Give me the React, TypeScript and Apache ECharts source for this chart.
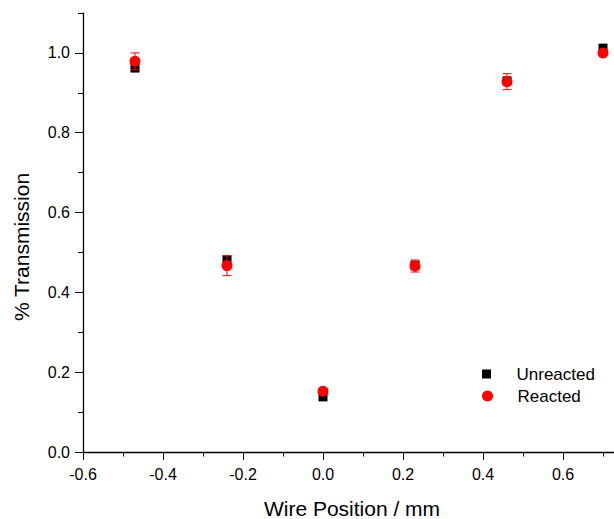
import React, { useEffect, useRef } from "react";
import * as echarts from "echarts";

const positions = [-0.47, -0.24, 0.0, 0.23, 0.46, 0.7];
const unreacted = [0.962, 0.481, 0.138, 0.468, 0.93, 1.012];
const reacted = [0.979, 0.467, 0.152, 0.466, 0.928, 1.0];
const reactedErr = [0.021, 0.025, 0.005, 0.015, 0.02, 0.004];

const xMajor = [-0.6, -0.4, -0.2, 0.0, 0.2, 0.4, 0.6];
const xMinor = [-0.5, -0.3, -0.1, 0.1, 0.3, 0.5, 0.7];
const yMajor = [0.0, 0.2, 0.4, 0.6, 0.8, 1.0];
const yMinor = [0.1, 0.3, 0.5, 0.7, 0.9, 1.1];

const FONT = "'Liberation Sans', Arial, sans-serif";

export default function App() {
  const ref = useRef<HTMLDivElement>(null);
  useEffect(() => {
    if (!ref.current) return;
    const chart = echarts.init(ref.current, null, { renderer: "svg" });
    const xMin = -0.6;
    const xMax = 0.7275;
    const yMin = 0;
    const yMax = 1.1;
    const axisLineStyle = { color: "#000", width: 1.3 };
    const option: any = {
      animation: false,
      textStyle: { fontFamily: FONT },
      grid: { left: 83, top: 13, width: 531, height: 439 },
      xAxis: [
        {
          type: "value",
          min: xMin,
          max: xMax,
          position: "bottom",
          axisLine: { show: true, onZero: false, lineStyle: axisLineStyle },
          axisTick: { show: true, customValues: xMajor, length: 8, lineStyle: { color: "#000", width: 1 } },
          axisLabel: {
            customValues: xMajor,
            formatter: (v: number) => v.toFixed(1),
            color: "#000",
            fontSize: 16,
            fontFamily: FONT,
            margin: 14,
          },
          splitLine: { show: false },
        },
        {
          type: "value",
          min: xMin,
          max: xMax,
          position: "bottom",
          axisLine: { show: false, onZero: false },
          axisTick: { show: true, customValues: xMinor, length: 4.5, lineStyle: { color: "#000", width: 1 } },
          axisLabel: { show: false },
          splitLine: { show: false },
        },
      ],
      yAxis: [
        {
          type: "value",
          min: yMin,
          max: yMax,
          position: "left",
          axisLine: { show: true, onZero: false, lineStyle: axisLineStyle },
          axisTick: { show: true, customValues: yMajor, length: 8, lineStyle: { color: "#000", width: 1 } },
          axisLabel: {
            customValues: yMajor,
            formatter: (v: number) => v.toFixed(1),
            color: "#000",
            fontSize: 16,
            fontFamily: FONT,
            margin: 13,
          },
          splitLine: { show: false },
        },
        {
          type: "value",
          min: yMin,
          max: yMax,
          position: "left",
          axisLine: { show: false, onZero: false },
          axisTick: { show: true, customValues: yMinor, length: 5, lineStyle: { color: "#000", width: 1 } },
          axisLabel: { show: false },
          splitLine: { show: false },
        },
      ],
      legend: [
        {
          data: [{ name: "Unreacted", icon: "path://M0,0L10,0L10,10L0,10Z", itemStyle: { color: "#000", opacity: 1 } }],
          left: 482,
          top: 365,
          padding: 0,
          itemWidth: 50,
          itemHeight: 9,
          symbolKeepAspect: true,
          textStyle: { fontSize: 17, lineHeight: 18, color: "#000", fontFamily: FONT },
        },
        {
          data: [{ name: "Reacted", icon: "circle", itemStyle: { color: "#ff0000", opacity: 1 } }],
          left: 482,
          top: 387,
          padding: 0,
          itemWidth: 50,
          itemHeight: 11,
          textStyle: { fontSize: 17, lineHeight: 18, color: "#000", fontFamily: FONT },
        },
      ],
      graphic: [
        {
          type: "text",
          x: 352,
          y: 508,
          style: {
            text: "Wire Position / mm",
            fontSize: 21,
            fontFamily: FONT,
            fill: "#000",
            align: "center",
            verticalAlign: "middle",
          },
        },
        {
          type: "text",
          x: 21,
          y: 247,
          rotation: Math.PI / 2,
          style: {
            text: "% Transmission",
            fontSize: 21,
            fontFamily: FONT,
            fill: "#000",
            align: "center",
            verticalAlign: "middle",
          },
        },
      ],
      series: [
        {
          name: "Unreacted",
          type: "scatter",
          symbol: "rect",
          symbolSize: 9,
          itemStyle: { color: "#000", opacity: 1 },
          data: positions.map((x, i) => [x, unreacted[i]]),
          z: 2,
        },
        {
          name: "Reacted",
          type: "scatter",
          symbol: "circle",
          symbolSize: 11,
          itemStyle: { color: "#ff0000", opacity: 1 },
          data: positions.map((x, i) => [x, reacted[i]]),
          z: 3,
        },
        {
          name: "Reacted",
          type: "custom",
          z: 4,
          encode: { x: 0, y: [1, 2] },
          data: positions.map((x, i) => [x, reacted[i] - reactedErr[i], reacted[i] + reactedErr[i]]),
          renderItem: (params: any, api: any) => {
            const x = api.value(0);
            const lo = api.coord([x, api.value(1)]);
            const hi = api.coord([x, api.value(2)]);
            const hw = 4.5;
            const style = { stroke: "#ff0000", lineWidth: 1 };
            return {
              type: "group",
              children: [
                { type: "line", shape: { x1: lo[0], y1: lo[1], x2: hi[0], y2: hi[1] }, style },
                { type: "line", shape: { x1: hi[0] - hw, y1: hi[1], x2: hi[0] + hw, y2: hi[1] }, style },
                { type: "line", shape: { x1: lo[0] - hw, y1: lo[1], x2: lo[0] + hw, y2: lo[1] }, style },
              ],
            };
          },
        },
      ],
    };
    chart.setOption(option);
    return () => chart.dispose();
  }, []);
  return (
    <div
      ref={ref}
      style={{ position: "absolute", left: 0, top: 0, width: 614, height: 519, background: "#fff" }}
    />
  );
}
